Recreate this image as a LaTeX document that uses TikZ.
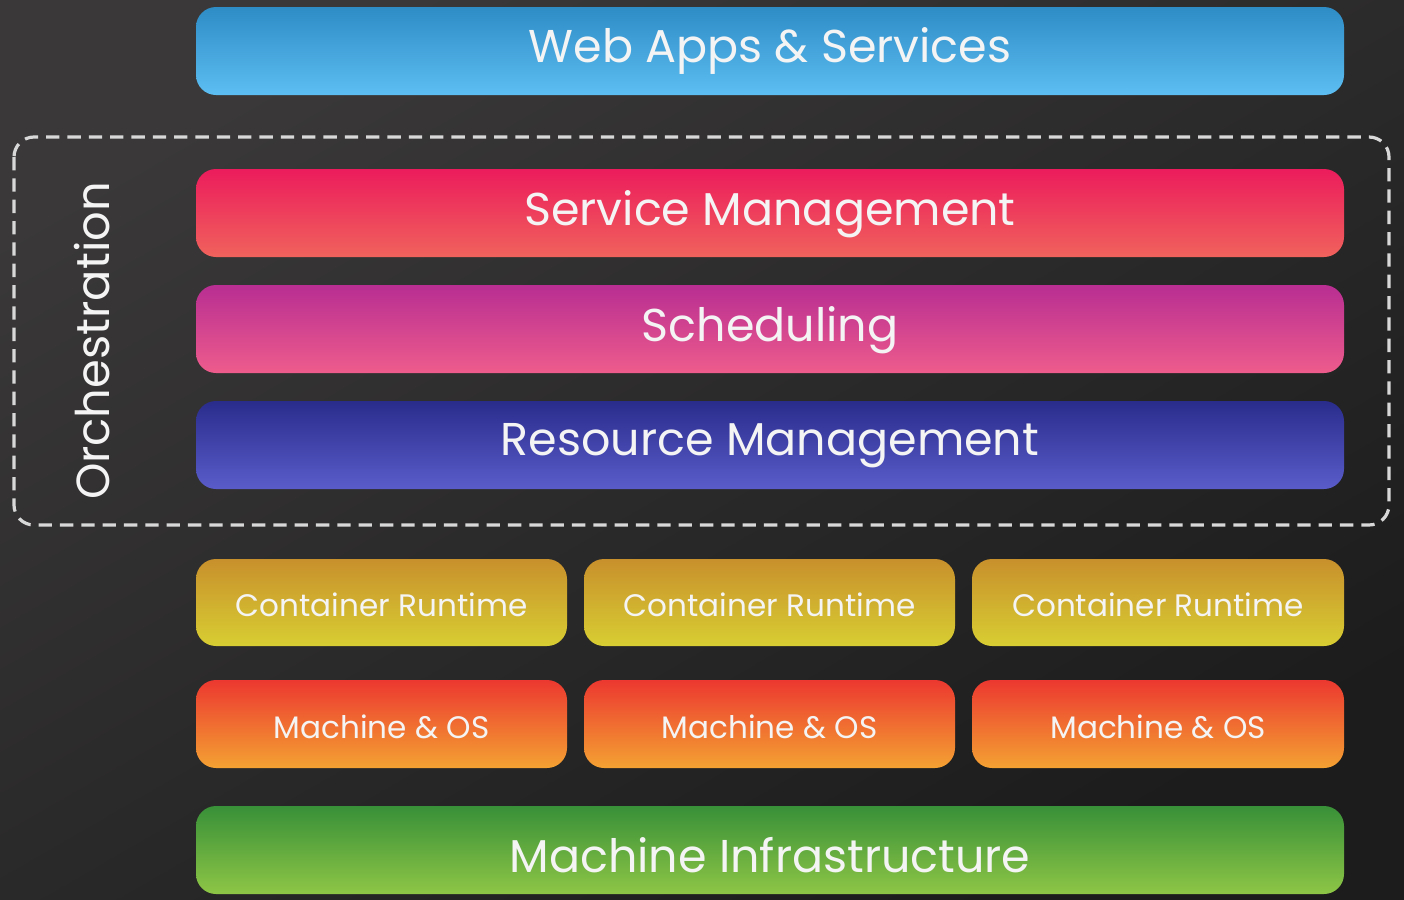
\documentclass[tikz,border=0pt]{standalone}
\usepackage{fontspec}
\setmainfont{Poppins}
\definecolor{bgA}{HTML}{3A3838}
\definecolor{bgB}{HTML}{1C1C1C}
\definecolor{dashc}{HTML}{D8D8D8}
\definecolor{webT}{HTML}{2E8CC6}\definecolor{webB}{HTML}{5CBEF2}
\definecolor{svcT}{HTML}{EC1C5C}\definecolor{svcB}{HTML}{F0625C}
\definecolor{schT}{HTML}{B82E92}\definecolor{schB}{HTML}{EE5C8C}
\definecolor{resT}{HTML}{2A2C8C}\definecolor{resB}{HTML}{5A5CCA}
\definecolor{conT}{HTML}{C8902C}\definecolor{conB}{HTML}{D8CE32}
\definecolor{macT}{HTML}{EC3830}\definecolor{macB}{HTML}{F4A232}
\definecolor{infT}{HTML}{389038}\definecolor{infB}{HTML}{8EC646}
\definecolor{txt}{HTML}{F4F4F4}
\tikzset{
  layer/.style={rounded corners=15pt, inner sep=0pt, text=txt},
  bigtext/.style={font=\fontsize{34.5}{40}\selectfont},
  smalltext/.style={font=\fontsize{23.3}{28}\selectfont},
  dashbox/.style={draw=dashc, line width=2.4pt, dash pattern=on 10pt off 6pt, rounded corners=15pt},
}
\begin{document}
\begin{tikzpicture}[x=0.75pt,y=-0.75pt]
\shade[top color=bgA, bottom color=bgB, shading angle=30] (0,0) rectangle (1404,900);
\useasboundingbox (0,0) rectangle (1404,900);
% layers
\shade[layer, top color=webT, bottom color=webB] (196,7) rectangle (1344,95);
\node[text=txt,bigtext] (web) at (770,51) {Web Apps \& Services};
\draw[dashbox] (14,137) rectangle (1389,525);
\node[text=txt, rotate=90, font=\fontsize{34.8}{40}\selectfont] (orch) at (92,341) {Orchestration};
\shade[layer, top color=svcT, bottom color=svcB] (196,169) rectangle (1344,257);
\node[text=txt,bigtext] (svc) at (770,214) {Service Management};
\shade[layer, top color=schT, bottom color=schB] (196,285) rectangle (1344,373);
\node[text=txt,bigtext] (sch) at (770,330) {Scheduling};
\shade[layer, top color=resT, bottom color=resB] (196,401) rectangle (1344,489);
\node[text=txt,bigtext] (res) at (770,446) {Resource Management};
% containers
\foreach \xa/\xb/\n in {196/567/1, 584/955/2, 972/1344/3}{
  \shade[layer, top color=conT, bottom color=conB] (\xa,559) rectangle (\xb,646);
  \node[text=txt,smalltext] (cr\n) at ({(\xa+\xb)/2},605) {Container Runtime};
  \shade[layer, top color=macT, bottom color=macB] (\xa,680) rectangle (\xb,768);
  \node[text=txt,smalltext] (mo\n) at ({(\xa+\xb)/2},727) {Machine \& OS};
}
\shade[layer, top color=infT, bottom color=infB] (196,806) rectangle (1344,894);
\node[text=txt,bigtext] (inf) at (770,855) {Machine Infrastructure};
\end{tikzpicture}
\end{document}
